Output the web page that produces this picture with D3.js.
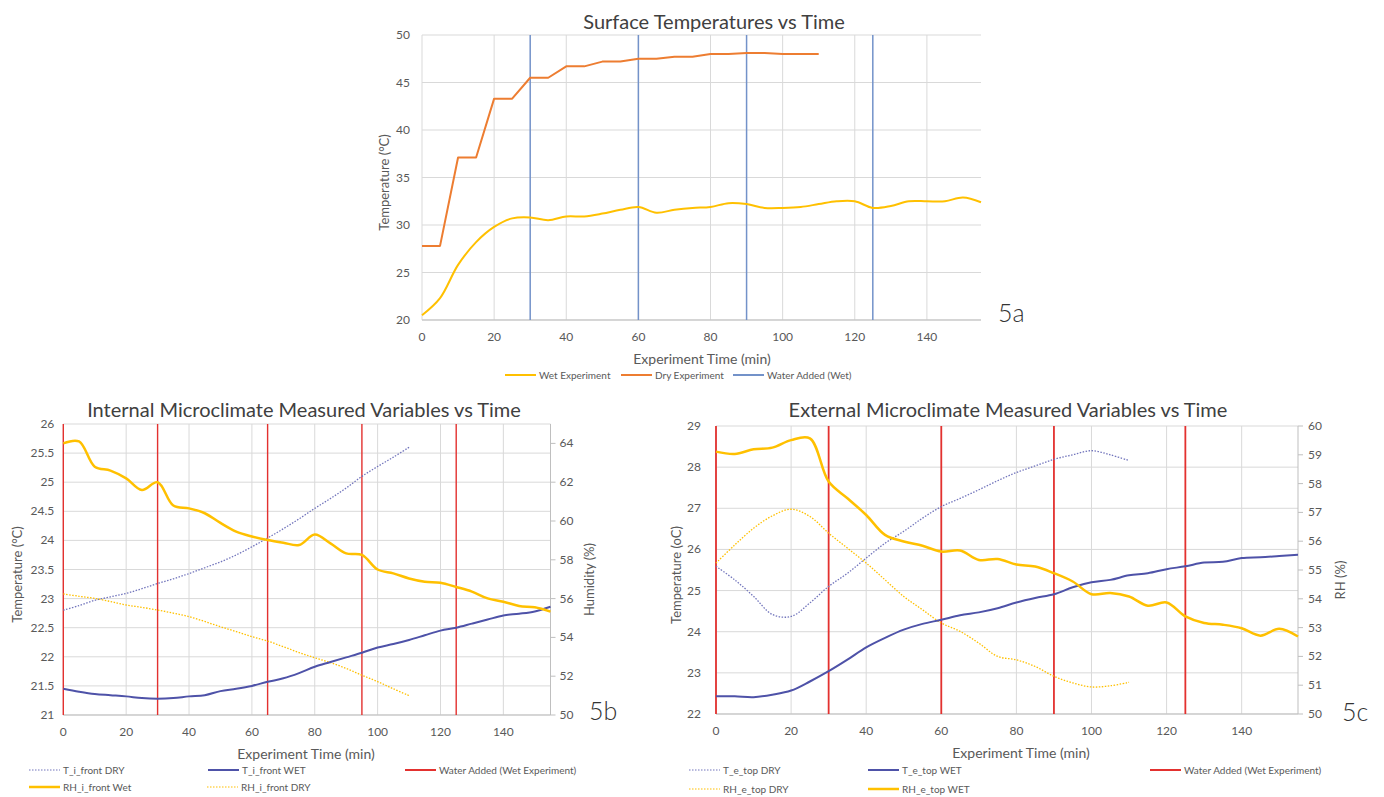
<!DOCTYPE html>
<html>
<head>
<meta charset="utf-8">
<script src="https://cdn.jsdelivr.net/npm/d3@7"></script>
<style>
  body { margin: 0; background: #fff; }
  svg { font-family: Lato, "Open Sans", sans-serif; }
</style>
</head>
<body>
<svg id="fig" width="1384" height="797"></svg>
<script>
// ---- data ----
const minutes = [0,5,10,15,20,25,30,35,40,45,50,55,60,65,70,75,80,85,90,95,100,105,110,115,120,125,130,135,140,145,150,155];
const xTicks = [0,20,40,60,80,100,120,140];

// 5a surface temperatures
const surfWet = [20.5,22.3,25.8,28.2,29.8,30.7,30.8,30.5,30.9,30.9,31.2,31.6,31.9,31.3,31.6,31.8,31.9,32.3,32.2,31.8,31.8,31.9,32.2,32.5,32.5,31.8,32.0,32.5,32.5,32.5,32.9,32.4];
const surfDry = [27.8,27.8,37.1,37.1,43.3,43.3,45.5,45.5,46.7,46.7,47.2,47.2,47.5,47.5,47.7,47.7,48.0,48.0,48.1,48.1,48.0,48.0,48.0];
const waterA = [30,60,90,125];

// 5b internal microclimate
const tIntDry = [22.80,22.88,22.97,23.03,23.09,23.17,23.26,23.34,23.43,23.53,23.63,23.75,23.89,24.04,24.20,24.37,24.55,24.72,24.90,25.10,25.27,25.43,25.60];
const tIntWet = [21.45,21.40,21.36,21.34,21.32,21.29,21.28,21.29,21.32,21.34,21.41,21.45,21.50,21.57,21.63,21.72,21.83,21.91,21.99,22.07,22.16,22.22,22.29,22.37,22.45,22.50,22.57,22.64,22.71,22.74,22.78,22.86];
const rhIntWet = [64.0,64.1,62.8,62.6,62.2,61.6,62.0,60.8,60.65,60.4,59.9,59.45,59.2,59.02,58.88,58.76,59.3,58.85,58.33,58.25,57.5,57.3,57.04,56.87,56.82,56.6,56.36,56.01,55.84,55.62,55.55,55.33];
const rhIntDry = [56.24,56.12,56.01,55.85,55.67,55.55,55.41,55.25,55.07,54.82,54.55,54.30,54.04,53.81,53.52,53.22,52.95,52.70,52.40,52.05,51.72,51.35,51.00];
const waterB = [0,30,65,95,125];

// 5c external microclimate
const tExtDry = [25.59,25.26,24.86,24.42,24.37,24.70,25.10,25.42,25.79,26.15,26.44,26.76,27.04,27.24,27.45,27.67,27.87,28.03,28.19,28.30,28.40,28.30,28.16];
const tExtWet = [22.43,22.43,22.41,22.47,22.57,22.79,23.04,23.32,23.62,23.85,24.05,24.19,24.29,24.40,24.47,24.57,24.71,24.82,24.91,25.08,25.20,25.26,25.37,25.42,25.52,25.59,25.68,25.70,25.79,25.81,25.84,25.87];
const rhExtWet = [59.11,59.03,59.19,59.25,59.51,59.57,58.07,57.49,56.91,56.22,55.99,55.84,55.64,55.68,55.35,55.38,55.19,55.12,54.89,54.60,54.16,54.20,54.08,53.76,53.87,53.39,53.16,53.10,52.98,52.72,52.96,52.69];
const rhExtDry = [55.24,55.87,56.45,56.88,57.11,56.86,56.28,55.76,55.24,54.66,54.08,53.62,53.16,52.87,52.46,52.00,51.88,51.65,51.31,51.08,50.94,50.98,51.10];
const waterC = [0,30,60,90,125];

const legendA = ["Wet Experiment", "Dry Experiment", "Water Added (Wet)"];
const legendB = ["T_i_front DRY", "T_i_front WET", "Water Added (Wet Experiment)", "RH_i_front Wet", "RH_i_front DRY"];
const legendC = ["T_e_top DRY", "T_e_top WET", "Water Added (Wet Experiment)", "RH_e_top DRY", "RH_e_top WET"];

// ---- styles ----
const textCol = "#595959";
const gridCol = "#D9D9D9";
const yellow = "#FFC000";
const orange = "#ED7D31";
const blueWater = "#7392C9";
const red = "#E3312F";
const tWetCol = "#4E52A8";
const tDryCol = "#7275BC";

const svg = d3.select("#fig");

function panel(c) {
  const g = svg.append("g");
  const x = d3.scaleLinear().domain([0, 155]).range([c.left, c.right]);
  const y = d3.scaleLinear().domain(c.yDomain).range([c.bottom, c.top]);
  const y2 = c.y2Domain ? d3.scaleLinear().domain(c.y2Domain).range([c.bottom, c.top]) : null;

  // grid
  g.selectAll(".hg").data(c.yTicks).join("line")
    .attr("x1", c.left).attr("x2", c.right)
    .attr("y1", d => y(d)).attr("y2", d => y(d))
    .attr("stroke", gridCol).attr("stroke-width", 1);
  g.selectAll(".vg").data(xTicks).join("line")
    .attr("x1", d => x(d)).attr("x2", d => x(d))
    .attr("y1", c.top).attr("y2", c.bottom)
    .attr("stroke", gridCol).attr("stroke-width", 1);
  // bottom axis line
  g.append("line").attr("x1", c.left).attr("x2", c.right)
    .attr("y1", c.bottom).attr("y2", c.bottom)
    .attr("stroke", "#BFBFBF");

  // tick labels
  g.selectAll(".yl").data(c.yTicks).join("text")
    .attr("x", c.left - c.yLabelGap).attr("y", d => y(d) + 4)
    .attr("text-anchor", "end").attr("font-size", 12).attr("fill", textCol)
    .text(c.yFormat);
  g.selectAll(".xl").data(xTicks).join("text")
    .attr("x", d => x(d)).attr("y", c.bottom + 21)
    .attr("text-anchor", "middle").attr("font-size", 12).attr("fill", textCol)
    .text(d => d);

  if (y2) {
    g.append("line").attr("x1", c.right).attr("x2", c.right)
      .attr("y1", c.top).attr("y2", c.bottom).attr("stroke", "#BFBFBF");
    g.selectAll(".y2t").data(c.y2Ticks).join("line")
      .attr("x1", c.right).attr("x2", c.right + 5)
      .attr("y1", d => y2(d)).attr("y2", d => y2(d)).attr("stroke", "#BFBFBF");
    g.selectAll(".y2l").data(c.y2Ticks).join("text")
      .attr("x", c.right + c.y2LabelGap).attr("y", d => y2(d) + 4)
      .attr("font-size", 12).attr("fill", textCol)
      .text(d => d);
    g.append("text")
      .attr("transform", `translate(${c.y2TitleX},${(c.top + c.bottom) / 2 + 10}) rotate(-90)`)
      .attr("text-anchor", "middle").attr("font-size", 13).attr("fill", textCol)
      .text(c.y2Title);
  }

  // vertical "water added" lines
  g.selectAll(".wl").data(c.water).join("line")
    .attr("x1", d => x(d)).attr("x2", d => x(d))
    .attr("y1", c.top).attr("y2", c.bottom)
    .attr("stroke", c.waterColor).attr("stroke-width", c.waterWidth);

  // series
  c.series.forEach(s => {
    const sc = s.axis === 2 ? y2 : y;
    const pts = s.values.map((v, i) => [minutes[i], v]);
    g.append("path").datum(pts)
      .attr("fill", "none").attr("stroke", s.color).attr("stroke-width", s.width)
      .attr("stroke-dasharray", s.dash || null)
      .attr("stroke-linejoin", "round")
      .attr("d", d3.line().x(d => x(d[0])).y(d => sc(d[1]))
        .curve(s.smooth ? d3.curveCatmullRom.alpha(0.5) : d3.curveLinear));
  });

  // titles
  g.append("text").attr("x", c.titleX).attr("y", c.titleY)
    .attr("text-anchor", "middle").attr("font-size", 20).attr("fill", "#404040")
    .text(c.title);
  g.append("text").attr("x", c.xTitleX).attr("y", c.bottom + 44)
    .attr("text-anchor", "middle").attr("font-size", 14).attr("fill", textCol)
    .text("Experiment Time (min)");
  g.append("text")
    .attr("transform", `translate(${c.yTitleX},${(c.top + c.bottom) / 2 + 5}) rotate(-90)`)
    .attr("text-anchor", "middle").attr("font-size", 13).attr("fill", textCol)
    .text(c.yTitle);
  g.append("text").attr("x", c.tagX).attr("y", c.tagY)
    .attr("font-size", 25).attr("fill", "#333").attr("font-weight", 300)
    .text(c.tag);

  // legend
  c.legend.forEach(it => {
    g.append("line").attr("x1", it.x).attr("x2", it.x + 31)
      .attr("y1", it.y).attr("y2", it.y)
      .attr("stroke", it.color).attr("stroke-width", it.width)
      .attr("stroke-dasharray", it.dash || null);
    g.append("text").attr("x", it.x + 34).attr("y", it.y + 3.5)
      .attr("font-size", 10).attr("fill", textCol).text(it.label);
  });
}

const dot = "1.5 1.5";

panel({
  left: 422, right: 981, top: 35, bottom: 320,
  yDomain: [20, 50], yTicks: [20,25,30,35,40,45,50], yFormat: d => d, yLabelGap: 12,
  water: waterA, waterColor: blueWater, waterWidth: 1.5,
  series: [
    { values: surfWet, color: yellow, width: 2, smooth: true },
    { values: surfDry, color: orange, width: 2, smooth: false }
  ],
  title: "Surface Temperatures vs Time", titleX: 714, titleY: 29,
  xTitleX: 702, yTitle: "Temperature (°C)", yTitleX: 389,
  tag: "5a", tagX: 998, tagY: 322,
  legend: [
    { label: legendA[0], x: 505, y: 375, color: yellow, width: 2 },
    { label: legendA[1], x: 621, y: 375, color: orange, width: 2 },
    { label: legendA[2], x: 733, y: 375, color: blueWater, width: 2 }
  ]
});

panel({
  left: 63.3, right: 550.5, top: 424, bottom: 715,
  yDomain: [21, 26], yTicks: [21,21.5,22,22.5,23,23.5,24,24.5,25,25.5,26], yFormat: d => d, yLabelGap: 9,
  y2Domain: [50, 65], y2Ticks: [50,52,54,56,58,60,62,64], y2LabelGap: 9, y2Title: "Humidity (%)", y2TitleX: 594,
  water: waterB, waterColor: red, waterWidth: 1.4,
  series: [
    { values: tIntDry, color: tDryCol, width: 1.3, dash: dot, smooth: true },
    { values: rhIntDry, color: yellow, width: 1.3, dash: dot, smooth: true, axis: 2 },
    { values: tIntWet, color: tWetCol, width: 2, smooth: true },
    { values: rhIntWet, color: yellow, width: 2.5, smooth: true, axis: 2 }
  ],
  title: "Internal Microclimate Measured Variables vs Time", titleX: 304, titleY: 417,
  xTitleX: 306, yTitle: "Temperature (°C)", yTitleX: 22,
  tag: "5b", tagX: 589, tagY: 720,
  legend: [
    { label: legendB[0], x: 29, y: 770, color: tDryCol, width: 1.2, dash: dot },
    { label: legendB[1], x: 208, y: 770, color: tWetCol, width: 2 },
    { label: legendB[2], x: 405, y: 770, color: red, width: 2 },
    { label: legendB[3], x: 29, y: 787, color: yellow, width: 2.5 },
    { label: legendB[4], x: 207, y: 787, color: yellow, width: 1.2, dash: dot }
  ]
});

panel({
  left: 716, right: 1298, top: 426, bottom: 714,
  yDomain: [22, 29], yTicks: [22,23,24,25,26,27,28,29], yFormat: d => d, yLabelGap: 15,
  y2Domain: [50, 60], y2Ticks: [50,51,52,53,54,55,56,57,58,59,60], y2LabelGap: 10, y2Title: "RH (%)", y2TitleX: 1345,
  water: waterC, waterColor: red, waterWidth: 1.8,
  series: [
    { values: tExtDry, color: tDryCol, width: 1.3, dash: dot, smooth: true },
    { values: rhExtDry, color: yellow, width: 1.3, dash: dot, smooth: true, axis: 2 },
    { values: tExtWet, color: tWetCol, width: 2, smooth: true },
    { values: rhExtWet, color: yellow, width: 2.5, smooth: true, axis: 2 }
  ],
  title: "External Microclimate Measured Variables vs Time", titleX: 1008, titleY: 417,
  xTitleX: 1021, yTitle: "Temperature (oC)", yTitleX: 681,
  tag: "5c", tagX: 1342, tagY: 721,
  legend: [
    { label: legendC[0], x: 689, y: 770, color: tDryCol, width: 1.2, dash: dot },
    { label: legendC[1], x: 868, y: 770, color: tWetCol, width: 2 },
    { label: legendC[2], x: 1150, y: 770, color: red, width: 2 },
    { label: legendC[3], x: 689, y: 789, color: yellow, width: 1.2, dash: dot },
    { label: legendC[4], x: 868, y: 789, color: yellow, width: 2.5 }
  ]
});
</script>
</body>
</html>
